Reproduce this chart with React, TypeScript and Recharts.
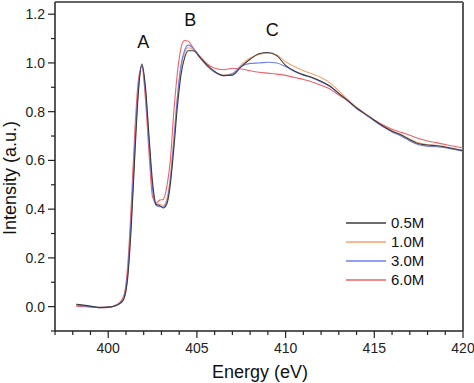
import React from 'react';
import { LineChart, Line, XAxis, YAxis, ReferenceLine, ReferenceDot, Legend } from 'recharts';

// photon energy (eV)
const energy = [
  398.2, 398.6, 399.0, 399.5, 400.0, 400.4, 400.7, 400.9, 401.1, 401.3, 401.5, 401.7, 401.9, 402.1, 402.3,
  402.5, 402.7, 402.9, 403.1, 403.3, 403.5, 403.7, 403.9, 404.1, 404.3, 404.5, 404.8, 405.2, 405.6, 406.0,
  406.5, 407.0, 407.5, 408.0, 408.5, 409.0, 409.5, 410.0, 410.5, 411.0, 411.5, 412.0, 412.5, 413.0, 413.5,
  414.0, 414.5, 415.0, 415.5, 416.0, 416.5, 417.0, 417.5, 418.0, 418.5, 419.0, 419.5, 420.0,
];

const m05 = [
  0.010, 0.006, 0.002, -0.003, -0.002, 0.004, 0.015, 0.035, 0.12, 0.33, 0.62, 0.88, 0.995, 0.90, 0.70,
  0.51, 0.42, 0.415, 0.405, 0.42, 0.50, 0.65, 0.82, 0.95, 1.02, 1.05, 1.05, 1.02, 0.99, 0.965,
  0.948, 0.950, 0.985, 1.015, 1.038, 1.043, 1.03, 0.99, 0.967, 0.952, 0.94, 0.925, 0.905, 0.875, 0.845,
  0.815, 0.79, 0.765, 0.74, 0.72, 0.705, 0.685, 0.668, 0.663, 0.66, 0.655, 0.648, 0.640,
];

const m10 = [
  0.008, 0.004, 0.0, -0.004, -0.003, 0.003, 0.014, 0.035, 0.13, 0.35, 0.64, 0.89, 0.99, 0.89, 0.68,
  0.49, 0.42, 0.42, 0.415, 0.44, 0.53, 0.69, 0.86, 0.98, 1.04, 1.062, 1.055, 1.02, 0.985, 0.962,
  0.95, 0.958, 0.992, 1.02, 1.035, 1.04, 1.032, 1.005, 0.985, 0.968, 0.955, 0.94, 0.918, 0.885, 0.85,
  0.818, 0.792, 0.766, 0.742, 0.722, 0.705, 0.688, 0.672, 0.665, 0.662, 0.656, 0.648, 0.642,
];

const m30 = [
  0.006, 0.003, 0.0, -0.004, -0.003, 0.004, 0.016, 0.04, 0.14, 0.37, 0.66, 0.90, 0.99, 0.88, 0.67,
  0.48, 0.415, 0.41, 0.41, 0.43, 0.52, 0.68, 0.86, 0.99, 1.05, 1.073, 1.06, 1.02, 0.985, 0.963,
  0.948, 0.955, 0.985, 0.998, 1.0, 1.003, 1.0, 0.985, 0.965, 0.95, 0.938, 0.922, 0.903, 0.874, 0.844,
  0.813, 0.788, 0.762, 0.738, 0.717, 0.70, 0.68, 0.664, 0.658, 0.656, 0.652, 0.645, 0.638,
];

const m60 = [
  0.002, 0.0, -0.002, -0.004, -0.002, 0.006, 0.022, 0.05, 0.17, 0.42, 0.72, 0.93, 0.985, 0.85, 0.63,
  0.45, 0.425, 0.437, 0.44, 0.49, 0.60, 0.80, 0.96, 1.06, 1.092, 1.09, 1.06, 1.025, 0.995, 0.978,
  0.972, 0.978, 0.975, 0.968, 0.962, 0.958, 0.954, 0.949, 0.94, 0.932, 0.922, 0.908, 0.893, 0.868, 0.846,
  0.815, 0.79, 0.765, 0.745, 0.728, 0.715, 0.703, 0.69, 0.68, 0.673, 0.665, 0.658, 0.652,
];

const seriesNames = ['0.5M', '1.0M', '3.0M', '6.0M'];
const seriesColors = ['#3c3c3c', '#f4a56c', '#6f7ff0', '#f0606a'];

const xTicks = [397, 398, 399, 400, 401, 402, 403, 404, 405, 406, 407, 408, 409, 410, 411, 412, 413, 414, 415, 416, 417, 418, 419, 420];
const yTicks = [-0.1, 0, 0.1, 0.2, 0.3, 0.4, 0.5, 0.6, 0.7, 0.8, 0.9, 1.0, 1.1, 1.2];

const peakLabels = [
  { name: 'A', x: 401.97, y: 1.088 },
  { name: 'B', x: 404.62, y: 1.178 },
  { name: 'C', x: 409.25, y: 1.137 },
];

const data = energy.map((e, i) => ({ e, m05: m05[i], m10: m10[i], m30: m30[i], m60: m60[i] }));

const FONT = '"Liberation Sans", Arial, sans-serif';

function XTick(props: any) {
  const { x, y, payload } = props;
  const major = payload.value % 5 === 0;
  return (
    <g>
      <line x1={x} y1={y} x2={x} y2={y + (major ? 7 : 4)} stroke="#222" strokeWidth={1.2} />
      {major && (
        <text x={x} y={y + 22} textAnchor="middle" fontSize={14} fontFamily={FONT} fill="#222">
          {payload.value}
        </text>
      )}
    </g>
  );
}

function YTick(props: any) {
  const { x, y, payload } = props;
  const k = Math.round(payload.value * 10);
  const major = k >= 0 && k % 2 === 0;
  return (
    <g>
      <line x1={x - (major ? 7 : 4)} y1={y} x2={x} y2={y} stroke="#222" strokeWidth={1.2} />
      {major && (
        <text x={x - 10} y={y + 5} textAnchor="end" fontSize={14} fontFamily={FONT} fill="#222">
          {payload.value.toFixed(1)}
        </text>
      )}
    </g>
  );
}

function LegendBox() {
  return (
    <div style={{ fontFamily: FONT, fontSize: 15, color: '#111' }}>
      {seriesNames.map((n, i) => (
        <div key={n} style={{ display: 'flex', alignItems: 'center', height: 19 }}>
          <svg width={40} height={4} style={{ marginRight: 5 }}>
            <line x1={0} y1={2} x2={40} y2={2} stroke={seriesColors[i]} strokeWidth={1.3} />
          </svg>
          <span>{n}</span>
        </div>
      ))}
    </div>
  );
}

export default function App() {
  const keys = ['m10', 'm60', 'm30', 'm05'];
  const idx = [1, 3, 2, 0];
  return (
    <div style={{ position: 'absolute', left: 0, top: 0, background: '#fff' }}>
      <LineChart width={474} height={383} data={data} margin={{ top: 2, right: 11, bottom: 0, left: 0 }}>
        <XAxis
          dataKey="e"
          type="number"
          domain={[397, 420]}
          ticks={xTicks}
          interval={0}
          height={52}
          tickSize={0}
          tickMargin={0}
          tick={<XTick />}
          axisLine={{ stroke: '#222', strokeWidth: 1.5 }}
          label={{
            content: () => (
              <text x={260} y={378} textAnchor="middle" fontSize={18} fontFamily={FONT} fill="#111">
                Energy (eV)
              </text>
            ),
          }}
        />
        <YAxis
          type="number"
          domain={[-0.1, 1.25]}
          ticks={yTicks}
          interval={0}
          width={55}
          tickSize={0}
          tickMargin={0}
          tick={<YTick />}
          axisLine={{ stroke: '#222', strokeWidth: 1.5 }}
          label={{
            content: () => (
              <text x={16} y={178} transform="rotate(-90 16 178)" textAnchor="middle" fontSize={18} fontFamily={FONT} fill="#111">
                Intensity (a.u.)
              </text>
            ),
          }}
        />
        <ReferenceLine x={420} stroke="#222" strokeWidth={1.5} />
        <ReferenceLine y={1.25} stroke="#666" strokeWidth={2} />
        {keys.map((k, j) => (
          <Line
            key={k}
            dataKey={k}
            name={seriesNames[idx[j]]}
            type="monotone"
            stroke={seriesColors[idx[j]]}
            strokeWidth={1.1}
            dot={false}
            isAnimationActive={false}
          />
        ))}
        {peakLabels.map((p) => (
          <ReferenceDot
            key={p.name}
            x={p.x}
            y={p.y}
            r={0}
            fill="none"
            stroke="none"
            label={{ value: p.name, position: 'center', fontSize: 18, fontFamily: FONT, fill: '#111' }}
          />
        ))}
        <Legend
          layout="vertical"
          verticalAlign="middle"
          align="center"
          content={<LegendBox />}
          wrapperStyle={{ left: 346, top: 213, width: 100 }}
        />
      </LineChart>
    </div>
  );
}
